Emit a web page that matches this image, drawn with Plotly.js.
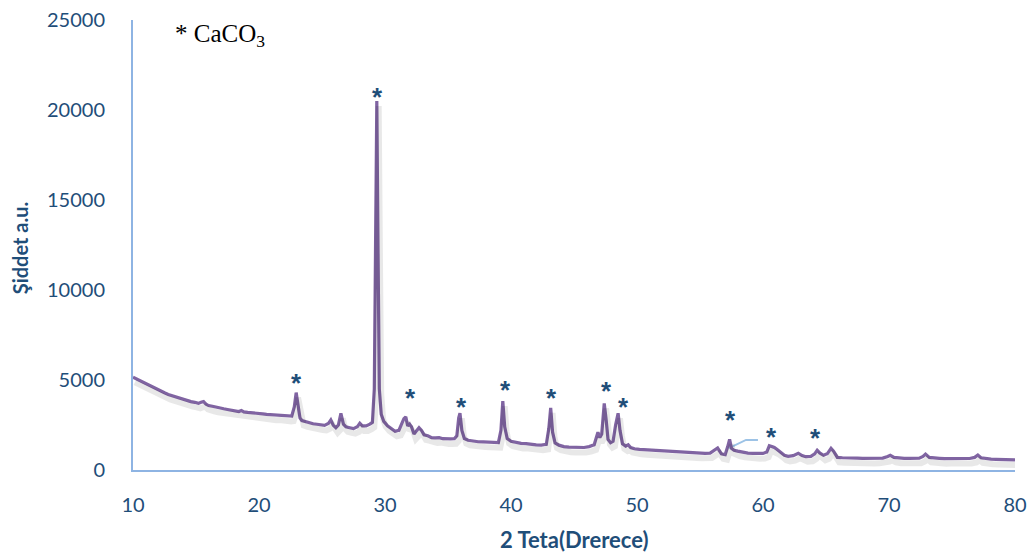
<!DOCTYPE html>
<html><head><meta charset="utf-8">
<script src="https://cdn.plot.ly/plotly-3.0.1.min.js"></script>
<style>html,body{margin:0;padding:0;background:#fff}#c{width:1030px;height:554px}</style>
</head><body><div id="c"></div>
<script>
const twoTheta = [10.0,10.2,10.4,10.6,10.8,11.0,11.3,11.6,11.9,12.2,12.5,12.8,13.1,13.4,13.7,14.0,14.3,14.6,14.9,15.2,15.4,15.6,15.8,16.0,16.3,16.6,16.9,17.2,17.5,17.8,18.1,18.4,18.6,18.8,19.1,19.4,19.7,20.0,20.3,20.6,20.9,21.2,21.5,21.8,22.1,22.4,22.6,22.8,22.95,23.1,23.25,23.4,23.7,24.0,24.3,24.6,24.9,25.2,25.5,25.7,25.9,26.1,26.3,26.5,26.7,26.9,27.2,27.5,27.8,28.0,28.2,28.5,28.8,29.0,29.15,29.25,29.35,29.45,29.55,29.7,29.9,30.2,30.5,30.8,31.1,31.3,31.5,31.65,31.8,31.95,32.1,32.3,32.5,32.7,32.9,33.1,33.4,33.7,34.0,34.3,34.6,34.9,35.2,35.5,35.7,35.85,35.95,36.1,36.3,36.6,37.0,37.4,37.8,38.2,38.6,39.0,39.2,39.35,39.5,39.7,40.0,40.4,40.8,41.2,41.6,42.0,42.4,42.8,43.0,43.15,43.3,43.5,43.8,44.2,44.6,45.0,45.4,45.8,46.2,46.6,46.9,47.05,47.2,47.4,47.55,47.7,47.9,48.1,48.3,48.5,48.65,48.85,49.1,49.3,49.5,49.8,50.2,50.6,51.0,51.4,51.8,52.2,52.6,53.0,53.4,53.8,54.2,54.6,55.0,55.4,55.8,56.1,56.4,56.7,57.0,57.2,57.35,57.5,57.7,58.0,58.4,58.8,59.2,59.6,60.0,60.3,60.5,60.7,60.9,61.1,61.4,61.7,62.0,62.4,62.8,63.1,63.4,63.8,64.1,64.3,64.5,64.8,65.1,65.4,65.6,65.9,66.3,66.7,67.1,67.5,67.9,68.3,68.7,69.1,69.5,69.9,70.1,70.4,70.8,71.2,71.6,72.0,72.4,72.7,72.9,73.2,73.6,74.0,74.4,74.8,75.2,75.6,76.0,76.4,76.8,77.05,77.3,77.7,78.1,78.5,78.9,79.3,79.7,80.0];
const intensity = [5150,5080,5000,4950,4870,4800,4700,4560,4480,4370,4290,4200,4130,4050,3990,3920,3870,3800,3760,3700,3760,3800,3650,3580,3540,3480,3450,3400,3360,3320,3290,3250,3310,3230,3200,3190,3150,3130,3120,3090,3070,3050,3060,3020,3000,2980,3000,3500,4300,3600,2900,2750,2680,2620,2570,2540,2500,2480,2580,2780,2480,2350,2500,3150,2550,2400,2350,2300,2400,2600,2450,2450,2550,2650,4500,12000,20500,12000,4500,3100,2700,2450,2300,2150,2200,2500,2850,2950,2450,2550,2400,2000,2150,2350,2200,1950,1900,1800,1780,1800,1740,1720,1730,1740,1900,2900,3150,2200,1750,1650,1600,1570,1560,1540,1520,1520,2200,3830,2400,1750,1600,1520,1480,1470,1420,1400,1380,1420,2300,3450,2100,1500,1380,1300,1270,1250,1230,1250,1300,1400,2100,1800,2000,3700,2800,1700,1520,1600,2500,3150,2200,1450,1330,1400,1250,1180,1150,1130,1120,1100,1080,1060,1030,1000,990,970,960,950,930,920,940,1080,1220,900,850,1300,1700,1200,1100,1050,980,940,920,900,920,1000,1350,1300,1250,1150,1000,820,760,800,930,800,740,760,900,1100,950,820,900,1200,1050,700,680,660,650,660,650,660,640,650,660,750,820,700,660,650,650,640,660,750,880,700,660,650,630,640,620,630,630,640,700,830,680,620,600,590,580,580,570,560];
// CaCO3 peak markers
const markX = [23.0,29.4,32.0,36.05,39.6,43.25,47.6,48.9,57.4,60.7,64.2];
const markY = [4830,20700,4000,3500,4440,4000,4390,3500,2780,1830,1780];
// short leader line near 57-60 degrees
const leadX = [57.3,58.65,59.6];
const leadY = [1220,1670,1670];
const yTicks = [0,5000,10000,15000,20000,25000];
const xTicks = [10,20,30,40,50,60,70,80];

const blue = '#1f4e79';
const traces = [
  {x: twoTheta, y: intensity, xaxis:'x2', yaxis:'y2', type:'scatter', mode:'lines',
   line:{color:'rgba(0,0,0,0.09)', width:6}, hoverinfo:'skip'},
  {x: leadX, y: leadY, type:'scatter', mode:'lines', line:{color:'#9dc3e6', width:2}},
  {x: twoTheta, y: intensity, type:'scatter', mode:'lines', line:{color:'#8064a2', width:3.2}}
];
const ann = markX.map((x,i)=>({x:x, y:markY[i], xref:'x', yref:'y', text:'<b>*</b>', showarrow:false,
  font:{family:'Liberation Sans', size:26, color:blue}, yanchor:'middle', xanchor:'center'}));
ann.push({xref:'paper', yref:'paper', x:0.045, y:0.965, xanchor:'left', yanchor:'middle', showarrow:false,
  text:'* CaCO<sub>3</sub>', font:{family:'Liberation Serif', size:25, color:'#000'}});
ann.push({xref:'paper', yref:'paper', x:0.5, y:-0.155, xanchor:'center', yanchor:'middle', showarrow:false,
  text:'<b>2 Teta(Drerece)</b>', font:{family:'Lato', size:22, color:blue}});
ann.push({xref:'paper', yref:'paper', x:-0.128, y:0.493, xanchor:'center', yanchor:'middle', showarrow:false, textangle:-90,
  text:'<b>Şiddet a.u.</b>', font:{family:'Lato', size:20, color:blue}});

const layout = {
  width:1030, height:554, margin:{l:133, r:15, t:20, b:84},
  paper_bgcolor:'#fff', plot_bgcolor:'#fff', showlegend:false,
  xaxis:{range:[10,80], tickvals:xTicks, ticktext:xTicks.map(String), showgrid:false, zeroline:false,
    showline:true, linecolor:'#8eb4e3', linewidth:2, ticks:'', ticklabelstandoff:16,
    tickfont:{family:'Lato', size:20, color:blue}},
  yaxis:{range:[0,25000], tickvals:yTicks, ticktext:yTicks.map(String), showgrid:false, zeroline:false,
    showline:true, linecolor:'#8eb4e3', linewidth:2, ticks:'', ticklabelstandoff:22,
    tickfont:{family:'Lato', size:20, color:blue}},
  xaxis2:{range:[9.85,79.85], overlaying:'x', visible:false},
  yaxis2:{range:[280,25280], overlaying:'y', visible:false},
  annotations: ann
};
Plotly.newPlot('c', traces, layout, {staticPlot:true, displayModeBar:false});
</script></body></html>
